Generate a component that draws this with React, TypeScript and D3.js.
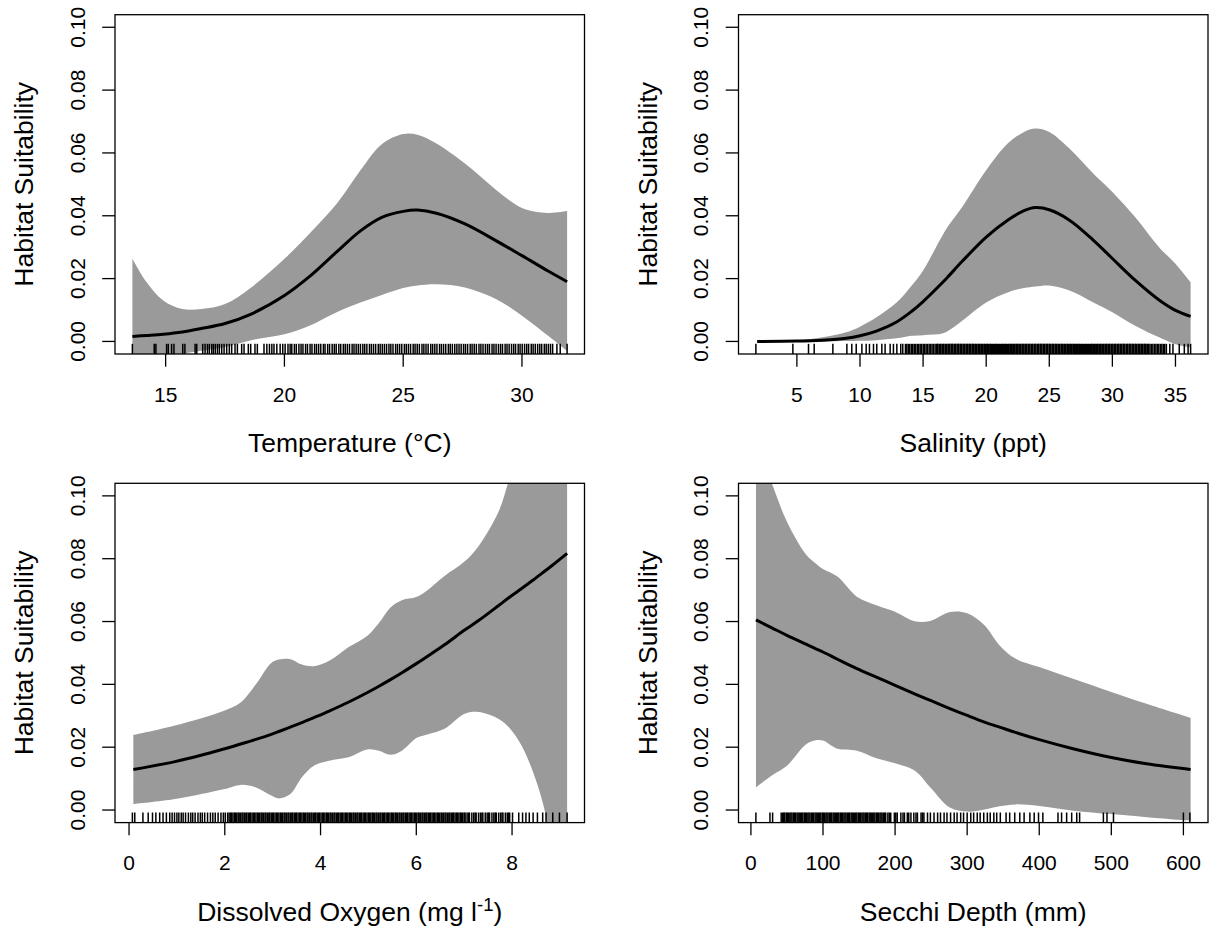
import React from 'react';
import * as d3 from 'd3';

// Shared y axis
const yTicks = [0, 0.02, 0.04, 0.06, 0.08, 0.1];
const yLimits = [0, 0.1];

// Temperature (°C)
const tempX = [13.6, 14.2, 14.9, 15.7, 16.5, 17.5, 18.6, 20, 21.05, 22.2, 23.2, 24.1, 25, 25.6, 26.4, 27.6, 28.9, 30, 31.1, 31.9];
const tempFit = [0.0016, 0.0019, 0.0023, 0.003, 0.0041, 0.0057, 0.0087, 0.0146, 0.0206, 0.0285, 0.0352, 0.0395, 0.0414, 0.0418, 0.0408, 0.0374, 0.0321, 0.0273, 0.0224, 0.019];
const tempLower = [-0.012, -0.009, -0.006, -0.004, -0.003, -0.0018, 0.0004, 0.0023, 0.005, 0.0093, 0.0124, 0.0148, 0.017, 0.0178, 0.0182, 0.0172, 0.0135, 0.0082, 0.0018, -0.003];
const tempUpper = [0.0263, 0.0188, 0.013, 0.0103, 0.0103, 0.0119, 0.0172, 0.0263, 0.0343, 0.0438, 0.0545, 0.0628, 0.066, 0.0658, 0.063, 0.0566, 0.0483, 0.0425, 0.0409, 0.0415];
const tempRug = [13.6, 14.52, 14.59, 15.04, 15.11, 15.25, 15.35, 15.72, 15.81, 16.24, 16.31, 16.56, 16.66, 16.76, 16.84, 16.94, 17.01, 17.09, 17.18, 17.26, 17.36, 17.46, 17.57, 17.68, 17.78, 17.92, 18.02, 18.2, 18.3, 18.48, 18.58, 18.76, 18.86, 19.14, 19.26, 19.37, 19.47, 19.56, 19.68, 19.82, 19.93, 20.03,
  20.15, 20.24, 20.31, 20.42, 20.5, 20.61, 20.7, 20.78, 20.89, 20.97, 21.08, 21.16, 21.27, 21.35, 21.44, 21.53, 21.64, 21.71, 21.82, 21.9, 22.01, 22.1, 22.18, 22.29, 22.37, 22.48, 22.56, 22.65, 22.74, 22.85, 22.93, 23.02, 23.11, 23.2, 23.3, 23.38, 23.47, 23.58, 23.66, 23.75, 23.84, 23.95, 24.03, 24.12, 24.21, 24.3, 24.4, 24.48, 24.57, 24.68, 24.76, 24.85, 24.94, 25.05, 25.13, 25.22, 25.31, 25.42, 25.5, 25.59, 25.68, 25.79, 25.87, 25.96, 26.05, 26.16, 26.24, 26.33, 26.42, 26.53, 26.61, 26.7, 26.79, 26.9, 26.98, 27.07, 27.17, 27.26, 27.35, 27.44, 27.54, 27.62, 27.71, 27.82, 27.9, 27.99, 28.08, 28.19, 28.27, 28.36, 28.46, 28.55, 28.63, 28.74, 28.82, 28.91, 29.01, 29.1, 29.18, 29.29, 29.37, 29.46, 29.56, 29.65, 29.73, 29.84, 29.92, 30.01, 30.11, 30.2, 30.28, 30.39, 30.47, 30.56, 30.66, 30.75, 30.83, 30.94, 31.02, 31.11, 31.2, 31.29, 31.47, 31.61, 31.9];
const tempTicks = [15, 20, 25, 30];

// Salinity (ppt)
const salX = [1.85, 5, 7.05, 8.9, 10, 11.3, 12.9, 14.1, 15, 16.5, 17, 18.1, 20, 21.7, 23, 23.9, 25, 26.6, 28.5, 30, 31.8, 33.7, 35, 36.2];
const salFit = [0.0, 0.0001, 0.0004, 0.001, 0.0018, 0.0033, 0.0062, 0.0096, 0.0127, 0.0186, 0.0207, 0.0255, 0.0332, 0.0386, 0.0416, 0.0426, 0.0419, 0.0386, 0.0322, 0.0264, 0.0195, 0.0132, 0.0099, 0.008];
const salLower = [0.0, 0.0, 0.0, 0.0001, 0.0002, 0.0004, 0.001, 0.0018, 0.002, 0.0025, 0.0034, 0.0066, 0.0124, 0.0156, 0.017, 0.0175, 0.0178, 0.0162, 0.0124, 0.0093, 0.005, 0.0013, -0.0009, -0.0019];
const salUpper = [0.0, 0.0004, 0.0013, 0.0029, 0.0047, 0.0077, 0.0124, 0.0178, 0.0226, 0.0335, 0.0368, 0.0428, 0.0545, 0.063, 0.0667, 0.0678, 0.0667, 0.0614, 0.0534, 0.0476, 0.0396, 0.03, 0.0247, 0.0188];
const salRug = [1.75, 4.68, 5.92, 6.37, 7.85, 8.96, 9.35, 9.7, 10.15, 10.49, 10.75, 11.07, 11.33, 11.73, 11.99, 12.39, 12.65, 12.92, 13.23, 13.39,
  13.6, 13.71, 13.83, 13.94, 14.07, 14.18, 14.3, 14.41, 14.54, 14.65, 14.77, 14.88, 15.01, 15.12, 15.24, 15.35, 15.48, 15.59, 15.71, 15.82, 15.95, 16.06, 16.18, 16.29, 16.42, 16.53, 16.65, 16.76, 16.89, 17.0, 17.12, 17.23, 17.36, 17.47, 17.59, 17.7, 17.83, 17.94, 18.06, 18.17, 18.3, 18.41, 18.53, 18.64, 18.77, 18.88, 19.0, 19.11, 19.24, 19.35, 19.47, 19.58, 19.71, 19.82, 19.94, 20.05, 20.18, 20.29, 20.41, 20.52, 20.65, 20.76, 20.88, 20.99, 21.12, 21.23, 21.35, 21.46, 21.59, 21.7, 21.82, 21.93, 22.06, 22.17, 22.29, 22.4, 22.53, 22.64, 22.76, 22.87, 23.0, 23.11, 23.23, 23.34, 23.47, 23.58, 23.7, 23.81, 23.94, 24.05, 24.17, 24.28, 24.41, 24.52, 24.64, 24.75, 24.88, 24.99, 25.11, 25.22, 25.35, 25.46, 25.58, 25.69, 25.82, 25.93, 26.05, 26.16, 26.29, 26.4, 26.52, 26.63, 26.76, 26.87, 26.99, 27.1, 27.23, 27.34, 27.46, 27.57, 27.7, 27.81, 27.93, 28.04, 28.17, 28.28, 28.4, 28.51, 28.64, 28.75, 28.87, 28.98, 29.11, 29.22, 29.34, 29.45, 29.58, 29.69, 29.81, 29.92, 30.05, 30.16, 30.28, 30.39, 30.52, 30.63, 30.75, 30.86, 30.99, 31.1, 31.22, 31.33, 31.46, 31.57, 31.69, 31.8, 31.93, 32.04, 32.16, 32.27, 32.4, 32.51, 32.63, 32.74, 32.87, 32.98, 33.1, 33.21, 33.34, 33.45, 33.57, 33.68, 33.81, 33.92, 34.04, 34.15, 34.28, 34.55, 34.8, 35.3, 35.7, 36.0, 36.2];
// Additional stations in the most heavily sampled salinity range
const salRugDense = [16.12, 16.36, 16.6, 16.84, 17.06, 17.3, 17.54, 17.77, 18.0, 18.24, 18.47, 18.7, 18.94, 19.17, 19.41, 19.64, 19.88, 20.11, 20.35, 20.58, 20.82, 21.05, 21.29, 21.52, 21.76, 21.99, 22.23, 22.46, 22.7, 22.93, 23.17, 23.4, 23.64, 23.87, 24.11, 24.34, 24.58, 24.81, 25.05, 25.28, 25.52, 25.75, 25.99, 26.22, 26.46, 26.69, 26.93, 27.16, 27.4, 27.63, 27.87, 28.1, 28.34, 28.57, 28.81, 29.04, 29.28, 29.51, 29.75, 29.98, 30.22, 30.45, 30.69, 30.92, 31.16, 31.39, 31.63, 31.86, 32.1, 32.33, 32.57, 32.8];
const salTicks = [5, 10, 15, 20, 25, 30, 35];

// Dissolved oxygen (mg/l)
const doX = [0.09, 0.96, 2.0, 2.33, 2.65, 2.97, 3.13, 3.37, 3.61, 3.86, 4.18, 4.58, 4.98, 5.22, 5.46, 5.7, 6.0, 6.19, 6.59, 7.0, 7.3, 7.72, 7.96, 8.2, 8.44, 8.68, 8.85, 9.15];
const doFit = [0.0129, 0.0154, 0.0195, 0.021, 0.0225, 0.0241, 0.025, 0.0264, 0.0278, 0.0294, 0.0315, 0.0343, 0.0374, 0.0394, 0.0415, 0.0437, 0.0466, 0.0485, 0.0526, 0.0572, 0.0603, 0.0651, 0.0679, 0.0705, 0.0732, 0.076, 0.078, 0.0817];
const doLower = [0.0019, 0.0035, 0.0067, 0.008, 0.0072, 0.0046, 0.0037, 0.0051, 0.0104, 0.0141, 0.0157, 0.0168, 0.0193, 0.0189, 0.0176, 0.0189, 0.0229, 0.0239, 0.0259, 0.0306, 0.0312, 0.029, 0.0259, 0.0205, 0.012, 0.0, -0.015, -0.04];
const doUpper = [0.0239, 0.0269, 0.0317, 0.0342, 0.04, 0.0468, 0.0479, 0.048, 0.0463, 0.0458, 0.0475, 0.0518, 0.0555, 0.0595, 0.0645, 0.0668, 0.0678, 0.0695, 0.0745, 0.079, 0.084, 0.095, 0.106, 0.114, 0.122, 0.13, 0.137, 0.15];
const doRug = [0.07, 0.12, 0.29, 0.4, 0.49, 0.56, 0.64, 0.71, 0.78, 0.85, 0.9, 0.95, 1.0, 1.04, 1.09, 1.13, 1.18, 1.24, 1.29, 1.33, 1.38, 1.44, 1.49, 1.53, 1.58, 1.64, 1.7, 1.75, 1.8, 1.86, 1.92,
  1.97, 2.01, 2.06, 2.09, 2.14, 2.17, 2.22, 2.25, 2.3, 2.33, 2.38, 2.41, 2.46, 2.49, 2.54, 2.57, 2.62, 2.65, 2.7, 2.73, 2.78, 2.81, 2.86, 2.89, 2.94, 2.97, 3.02, 3.05, 3.1, 3.13, 3.18, 3.21, 3.26, 3.29, 3.34, 3.37, 3.42, 3.45, 3.5, 3.53, 3.58, 3.61, 3.66, 3.69, 3.74, 3.77, 3.82, 3.85, 3.9, 3.93, 3.98, 4.01, 4.06, 4.09, 4.14, 4.17, 4.22, 4.25, 4.3, 4.33, 4.38, 4.41, 4.46, 4.49, 4.54, 4.57, 4.62, 4.65, 4.7, 4.73, 4.78, 4.81, 4.86, 4.89, 4.94, 4.97, 5.02, 5.05, 5.1, 5.13, 5.18, 5.21, 5.26, 5.29, 5.34, 5.37, 5.42, 5.45, 5.5, 5.53, 5.58, 5.61, 5.66, 5.69, 5.74, 5.77, 5.82, 5.85, 5.9, 5.93, 5.98, 6.01, 6.06, 6.09, 6.14, 6.17, 6.22, 6.25, 6.3, 6.33, 6.38, 6.41, 6.46, 6.49, 6.54, 6.57, 6.62, 6.65, 6.7, 6.73, 6.78, 6.81, 6.86, 6.89, 6.94, 6.97, 7.02, 7.06, 7.11, 7.16, 7.2, 7.25, 7.3, 7.34, 7.39, 7.44, 7.48, 7.53, 7.58, 7.62, 7.67, 7.72, 7.76, 7.81, 7.86, 7.9, 7.95, 8.01,
  8.14, 8.22, 8.29, 8.36, 8.44, 8.53, 8.64, 8.71, 8.85, 8.99, 9.15];
// Additional readings in the most heavily sampled oxygen range
const doRugDense = [2.12, 2.2, 2.28, 2.36, 2.44, 2.52, 2.6, 2.68, 2.76, 2.84, 2.92, 3.0, 3.08, 3.16, 3.24, 3.32, 3.4, 3.48, 3.56, 3.64, 3.72, 3.8, 3.88, 3.96, 4.04, 4.12, 4.2, 4.28, 4.36, 4.44, 4.52, 4.6, 4.68, 4.76, 4.84, 4.92, 5.0, 5.08, 5.16, 5.24, 5.32, 5.4, 5.48, 5.56, 5.64, 5.72, 5.8, 5.88, 5.96, 6.04, 6.12, 6.2, 6.28, 6.36, 6.44, 6.52, 6.6, 6.68, 6.76, 6.84, 6.92, 7.0, 7.09, 7.23, 7.37, 7.51, 7.65, 7.79, 7.93];
const doTicks = [0, 2, 4, 6, 8];

// Secchi depth (mm)
const secX = [7, 29, 50, 77, 90, 100, 120, 147, 174, 200, 227, 249, 276, 300, 324, 345, 367, 400, 447, 500, 549, 610];
const secFit = [0.0605, 0.058, 0.0556, 0.0527, 0.0513, 0.0503, 0.048, 0.045, 0.0423, 0.0397, 0.037, 0.0349, 0.0323, 0.0301, 0.028, 0.0264, 0.0247, 0.0224, 0.0195, 0.0167, 0.0147, 0.0129];
const secLower = [0.0072, 0.011, 0.0141, 0.021, 0.0222, 0.0221, 0.0195, 0.0189, 0.0165, 0.0149, 0.0126, 0.0072, 0.0008, -0.0005, 0.0002, 0.0012, 0.0018, 0.0013, -0.0002, -0.0013, -0.0023, -0.0034];
const secUpper = [0.118, 0.104, 0.0918, 0.0812, 0.0785, 0.0767, 0.0743, 0.0679, 0.0652, 0.0631, 0.0601, 0.0602, 0.063, 0.0626, 0.0588, 0.0524, 0.0482, 0.0455, 0.0418, 0.0376, 0.0338, 0.0293];
const secRug = [6.9, 26.4, 30.1,
  42, 44, 47, 49, 52, 54, 57, 59, 62, 64, 67, 69, 72, 74, 77, 79, 82, 84, 87, 89, 92, 94, 97, 99, 102, 104, 107, 109, 112, 114, 117, 119, 122, 124, 127, 129, 132, 134, 137, 139, 142, 144, 147, 149, 152, 154, 157, 159, 162, 164, 167, 169, 172, 174, 177, 179, 182, 184, 187, 190,
  194, 199, 203, 208, 213, 217, 222, 226, 231, 236, 240, 245, 249, 254, 259, 263, 268, 272, 277, 282, 286, 291, 295, 300, 305, 309, 314, 318, 323, 328, 332, 337, 341, 346,
  354, 359, 366, 373, 379, 387, 393, 399, 405, 426, 431, 438, 445, 452, 456, 489, 494, 503, 600, 609];
// Additional readings in the most heavily sampled depth range
const secRugDense = [45.5, 50.5, 55.5, 60.5, 65.5, 70.5, 75.5, 80.5, 85.5, 90.5, 95.5, 100.5, 105.5, 110.5, 115.5, 120.5, 125.5, 130.5, 135.5, 140.5, 145.5, 150.5, 155.5, 160.5, 165.5, 170.5, 175.5, 180.5, 185.5, 192, 201, 211, 219, 229, 238];
const secTicks = [0, 100, 200, 300, 400, 500, 600];

const FONT = '"Liberation Sans", Arial, Helvetica, sans-serif';
const BAND = '#9a9a9a';
const TICK_FS = 21;
const TITLE_FS = 26.5;

const colLeft = [115, 738.5];
const rowTop = [14.7, 483.3];
const boxW = 469.5;
const boxH = 339.3;

type PanelProps = {
  id: string;
  left: number;
  top: number;
  xs: number[];
  fit: number[];
  lower: number[];
  upper: number[];
  rug: number[];
  ticks: number[];
  title: React.ReactNode;
};

// R-style 4% axis padding
function padded(lo: number, hi: number): [number, number] {
  const r = hi - lo;
  return [lo - 0.04 * r, hi + 0.04 * r];
}

function Panel({ id, left, top, xs, fit, lower, upper, rug, ticks, title }: PanelProps) {
  const right = left + boxW;
  const bottom = top + boxH;
  const lo = Math.min(d3.min(xs)!, d3.min(rug)!);
  const hi = Math.max(d3.max(xs)!, d3.max(rug)!);
  const x = d3.scaleLinear().domain(padded(lo, hi)).range([left, right]);
  const y = d3.scaleLinear().domain(padded(yLimits[0], yLimits[1])).range([bottom, top]);

  const idx = xs.map((_, i) => i);
  const smooth = d3.curveCatmullRom.alpha(0.5);
  const area = d3
    .area<number>()
    .x((i) => x(xs[i]))
    .y0((i) => y(lower[i]))
    .y1((i) => y(upper[i]))
    .curve(smooth);
  const line = d3
    .line<number>()
    .x((i) => x(xs[i]))
    .y((i) => y(fit[i]))
    .curve(smooth);

  const rugTop = bottom - 0.03 * boxH;
  const fmtY = d3.format('.2f');

  return (
    <g>
      <defs>
        <clipPath id={`clip-${id}`}>
          <rect x={left} y={top} width={boxW} height={boxH} />
        </clipPath>
      </defs>
      <g clipPath={`url(#clip-${id})`}>
        <path d={area(idx) || ''} fill={BAND} stroke="none" />
        <path d={line(idx) || ''} fill="none" stroke="#000" strokeWidth={3} strokeLinejoin="round" />
        {rug.map((v, i) => (
          <line key={i} x1={x(v)} x2={x(v)} y1={bottom} y2={rugTop} stroke="#000" strokeWidth={1.5} />
        ))}
      </g>
      <rect x={left} y={top} width={boxW} height={boxH} fill="none" stroke="#000" strokeWidth={1.3} />

      {/* y axis */}
      {yTicks.map((t) => (
        <g key={t}>
          <line x1={left - 12.8} x2={left} y1={y(t)} y2={y(t)} stroke="#000" strokeWidth={1.3} />
          <text
            transform={`translate(${left - 30.5},${y(t)}) rotate(-90)`}
            textAnchor="middle"
            fontFamily={FONT}
            fontSize={TICK_FS}
            fill="#000"
          >
            {fmtY(t)}
          </text>
        </g>
      ))}
      <text
        transform={`translate(${left - 82},${(top + bottom) / 2}) rotate(-90)`}
        textAnchor="middle"
        fontFamily={FONT}
        fontSize={TITLE_FS}
        fill="#000"
      >
        Habitat Suitability
      </text>

      {/* x axis */}
      {ticks.map((t) => (
        <g key={t}>
          <line x1={x(t)} x2={x(t)} y1={bottom} y2={bottom + 12.7} stroke="#000" strokeWidth={1.3} />
          <text x={x(t)} y={bottom + 47.7} textAnchor="middle" fontFamily={FONT} fontSize={TICK_FS} fill="#000">
            {t}
          </text>
        </g>
      ))}
      <text
        x={(left + right) / 2}
        y={bottom + 98}
        textAnchor="middle"
        fontFamily={FONT}
        fontSize={TITLE_FS}
        fill="#000"
      >
        {title}
      </text>
    </g>
  );
}

export default function App() {
  return (
    <svg
      width={1211}
      height={930}
      viewBox="0 0 1211 930"
      style={{ position: 'absolute', left: 0, top: 0, background: '#fff' }}
    >
      <rect width={1211} height={930} fill="#fff" />
      <Panel id="temp" left={colLeft[0]} top={rowTop[0]} xs={tempX} fit={tempFit} lower={tempLower} upper={tempUpper} rug={tempRug} ticks={tempTicks} title="Temperature (°C)" />
      <Panel id="sal" left={colLeft[1]} top={rowTop[0]} xs={salX} fit={salFit} lower={salLower} upper={salUpper} rug={[...salRug, ...salRugDense]} ticks={salTicks} title="Salinity (ppt)" />
      <Panel
        id="do"
        left={colLeft[0]}
        top={rowTop[1]}
        xs={doX}
        fit={doFit}
        lower={doLower}
        upper={doUpper}
        rug={[...doRug, ...doRugDense]}
        ticks={doTicks}
        title={
          <>
            Dissolved Oxygen (mg l
            <tspan baselineShift="super" fontSize={TITLE_FS * 0.7}>-1</tspan>
            <tspan>)</tspan>
          </>
        }
      />
      <Panel id="sec" left={colLeft[1]} top={rowTop[1]} xs={secX} fit={secFit} lower={secLower} upper={secUpper} rug={[...secRug, ...secRugDense]} ticks={secTicks} title="Secchi Depth (mm)" />
    </svg>
  );
}
